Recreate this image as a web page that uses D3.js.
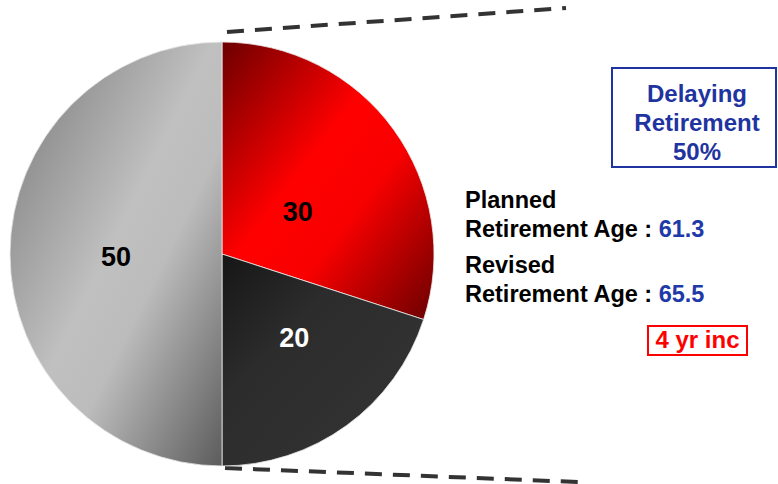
<!DOCTYPE html>
<html>
<head>
<meta charset="utf-8">
<script src="https://cdn.jsdelivr.net/npm/d3@7"></script>
<style>
  html, body { margin: 0; padding: 0; background: #ffffff; }
  svg { display: block; font-family: "Liberation Sans", Arial, sans-serif; font-weight: bold; }
</style>
</head>
<body>
<svg id="chart" width="778" height="484"></svg>
<script>
// Share of respondents (slices, clockwise from 12 o'clock)
const sliceNames  = ["Delaying", "Other", "Not delaying"];
const sliceValues = [30, 20, 50];

// Retirement ages shown beside the pie
const ageLabels = ["Planned", "Revised"];
const ageValues = [61.3, 65.5];
const delayingShare = 50;
const increaseYears = 4;

// Slice shading: each slice gets a diagonal dark-light-dark gradient
const sliceGradients = [
  [["0", "#6c0000"], ["0.42", "#ff0000"], ["0.62", "#f80000"], ["1", "#6a0000"]],
  [["0", "#161616"], ["0.35", "#2c2c2c"], ["1", "#353535"]],
  [["0", "#777777"], ["0.48", "#c0c0c0"], ["0.62", "#bcbcbc"], ["1", "#5c5c5c"]]
];
const labelColors = ["#000000", "#ffffff", "#000000"];
// label position relative to the slice centroid
const labelShift = [[-10, 20], [10, -2], [0, 2]];

const svg = d3.select("#chart");
const cx = 222, cy = 254, R = 212;

const defs = svg.append("defs");
sliceGradients.forEach((stops, i) => {
  const g = defs.append("linearGradient")
    .attr("id", "slice-grad-" + i)
    .attr("gradientUnits", "objectBoundingBox")
    .attr("x1", 0).attr("y1", 0).attr("x2", 1).attr("y2", 1);
  stops.forEach(s => g.append("stop").attr("offset", s[0]).attr("stop-color", s[1]));
});

// Zoom-out guide lines from the pie edge towards the text panel
const guides = svg.append("g")
  .attr("fill", "none")
  .attr("stroke", "#333333")
  .attr("stroke-width", 4)
  .attr("stroke-dasharray", "17,11");
guides.append("line").attr("x1", 227).attr("y1", 32).attr("x2", 566).attr("y2", 8);
guides.append("line").attr("x1", 225).attr("y1", 468).attr("x2", 578).attr("y2", 482);

const pie = d3.pie().sort(null).value(d => d)
  .startAngle(0).endAngle(2 * Math.PI);
const arcs = pie(sliceValues);
const arc = d3.arc().innerRadius(0).outerRadius(R);
const labelArc = d3.arc().innerRadius(R * 0.5).outerRadius(R * 0.5);

const pieG = svg.append("g").attr("transform", `translate(${cx},${cy})`);

pieG.selectAll("path.slice")
  .data(arcs)
  .join("path")
  .attr("class", "slice")
  .attr("d", arc)
  .attr("fill", (d, i) => `url(#slice-grad-${i})`)
  .attr("stroke", "#e8e8e8")
  .attr("stroke-width", 0.8)
  .attr("stroke-linejoin", "round");

pieG.selectAll("text.value")
  .data(arcs)
  .join("text")
  .attr("class", "value")
  .attr("transform", (d, i) => {
    const c = labelArc.centroid(d);
    return `translate(${c[0] + labelShift[i][0]},${c[1] + labelShift[i][1]})`;
  })
  .attr("text-anchor", "middle")
  .attr("dy", "0.36em")
  .attr("font-size", 27)
  .attr("fill", (d, i) => labelColors[i])
  .text(d => d.data);

// Boxed headline
const head = svg.append("g");
head.append("rect")
  .attr("x", 612).attr("y", 68).attr("width", 164).attr("height", 99)
  .attr("fill", "#ffffff").attr("stroke", "#1f34a0").attr("stroke-width", 2);
const headLines = ["Delaying", "Retirement", delayingShare + "%"];
head.selectAll("text")
  .data(headLines)
  .join("text")
  .attr("x", 697)
  .attr("y", (d, i) => 102 + i * 29)
  .attr("text-anchor", "middle")
  .attr("font-size", 24)
  .attr("fill", "#1f34a0")
  .text(d => d);

// Retirement age lines
const ageG = svg.append("g").attr("font-size", 23.5);
ageLabels.forEach((lab, i) => {
  const y0 = 208 + i * 65;
  ageG.append("text").attr("x", 465).attr("y", y0).attr("fill", "#000").text(lab);
  const t = ageG.append("text").attr("x", 465).attr("y", y0 + 29).attr("fill", "#000");
  t.append("tspan").text("Retirement Age : ");
  t.append("tspan").attr("fill", "#1f3aa8").text(ageValues[i].toFixed(1));
});

// Increase badge
const badge = svg.append("g");
badge.append("rect")
  .attr("x", 648).attr("y", 326).attr("width", 99).attr("height", 29)
  .attr("fill", "#ffffff").attr("stroke", "#ff0000").attr("stroke-width", 2);
badge.append("text")
  .attr("x", 697.5).attr("y", 348)
  .attr("text-anchor", "middle")
  .attr("font-size", 24)
  .attr("fill", "#ff0000")
  .text(increaseYears + " yr inc");
</script>
</body>
</html>
